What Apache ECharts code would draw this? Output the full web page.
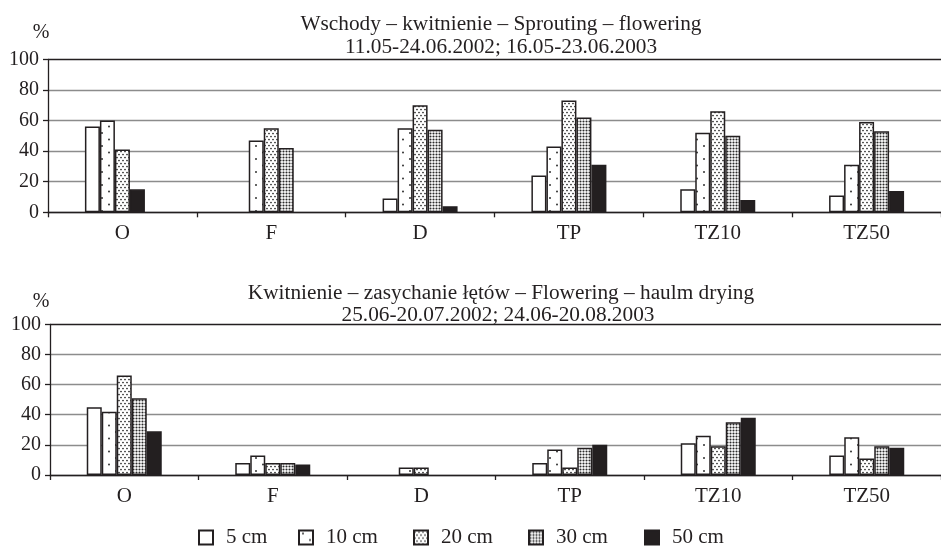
<!DOCTYPE html>
<html>
<head>
<meta charset="utf-8">
<script src="https://cdn.jsdelivr.net/npm/echarts@6/dist/echarts.min.js"></script>
<style>
html,body{margin:0;padding:0;background:#fff;}
#chart{width:941px;height:549px;}
</style>
</head>
<body>
<div id="chart"></div>
<script>
// ---- data ----
const categories = ['O', 'F', 'D', 'TP', 'TZ10', 'TZ50'];
const seriesNames = ['5 cm', '10 cm', '20 cm', '30 cm', '50 cm'];
const yTicks = [0, 20, 40, 60, 80, 100];

const titleTop1 = 'Wschody – kwitnienie – Sprouting – flowering';
const titleTop2 = '11.05-24.06.2002; 16.05-23.06.2003';
const titleBot1 = 'Kwitnienie – zasychanie łętów – Flowering – haulm drying';
const titleBot2 = '25.06-20.07.2002; 24.06-20.08.2003';

// Sprouting – flowering (top panel)
const top5  = [56, 0, 9, 24, 15, 11];
const top10 = [60, 47, 55, 43, 52, 31];
const top20 = [41, 55, 70, 73, 66, 59];
const top30 = [15, 42, 54, 62, 50, 53];   // in the figure, O's 4th bar is drawn black
const top50 = [0, 0, 4, 31, 8, 14];

// Flowering – haulm drying (bottom panel)
const bot5  = [45, 8, 0, 8, 21, 13];
const bot10 = [42, 13, 5, 17, 26, 25];
const bot20 = [66, 8, 5, 5, 19, 11];
const bot30 = [51, 8, 0, 18, 35, 19];
const bot50 = [29, 7, 0, 20, 38, 18];

// ---- patterns ----
function pattern(w, h, bg, fg, dots, r) {
  const c = document.createElement('canvas');
  c.width = w; c.height = h;
  const g = c.getContext('2d');
  g.fillStyle = bg; g.fillRect(0, 0, w, h);
  g.fillStyle = fg;
  dots.forEach(d => { g.beginPath(); g.arc(d[0], d[1], r, 0, Math.PI * 2); g.fill(); });
  return { image: c, repeat: 'repeat' };
}
const INK = '#231f20';
const fills = [
  '#ffffff',
  pattern(14, 13, '#ffffff', '#333', [[4, 3], [11, 9.5]], 1.0),
  pattern(4, 6, '#ffffff', '#222', [[1, 1.5], [3, 4.5]], 0.85),
  pattern(3, 3, '#ffffff', '#2a2a2a', [[1.5, 1.5]], 1.05),
  INK
];

const font = "'Liberation Serif','Times New Roman',serif";
const FS = 20;
const FT = 21.3;

const grids = [
  { left: 48, top: 59.3, width: 900, height: 153 },
  { left: 50, top: 324.3, width: 896, height: 150.7 }
];

function xAxis(i) {
  return {
    type: 'category', gridIndex: i, data: categories,
    axisLine: { lineStyle: { color: INK, width: 1.3 } },
    axisTick: { show: true, length: 5, lineStyle: { color: INK, width: 1.3 } },
    axisLabel: { fontFamily: font, fontSize: 21, color: INK, margin: 11 },
    splitLine: { show: false }
  };
}
function yAxis(i) {
  return {
    type: 'value', gridIndex: i, min: yTicks[0], max: yTicks[yTicks.length - 1], interval: 20,
    axisLine: { show: true, lineStyle: { color: INK, width: 1.3 } },
    axisTick: { show: true, length: 5, lineStyle: { color: INK, width: 1.3 } },
    axisLabel: { fontFamily: font, fontSize: FS, color: INK, margin: 9 },
    splitLine: { show: true, lineStyle: { color: ['#8c8c8c', '#8c8c8c', '#8c8c8c', '#8c8c8c', '#8c8c8c', INK], width: 1.4 } }
  };
}

function makeSeries(gridIdx, arrays) {
  return arrays.map((arr, k) => ({
    type: 'bar', name: seriesNames[k],
    xAxisIndex: gridIdx, yAxisIndex: gridIdx,
    barWidth: 15, barGap: '0%',
    itemStyle: { color: fills[k], borderColor: INK, borderWidth: 1.5 },
    data: arr.map((v, j) => {
      if (v === 0) return null;
      if (gridIdx === 0 && k === 3 && j === 0) {
        return { value: v, itemStyle: { color: INK } };
      }
      return v;
    }),
    animation: false
  }));
}

const legendLefts = [198, 298, 413, 528, 644];
const legends = seriesNames.map((n, k) => ({
  data: [n], left: legendLefts[k], top: 527, padding: 0,
  itemWidth: 14, itemHeight: 14, icon: 'rect', selectedMode: false,
  textStyle: { fontFamily: font, fontSize: 21, color: INK, padding: [0, 0, 0, 8] }
}));

function txt(x, y, s, fs) {
  return { type: 'text', x: x, y: y, style: { text: s, fontFamily: font, fontSize: fs, fill: INK, textAlign: 'center', textVerticalAlign: 'middle' } };
}

const chart = echarts.init(document.getElementById('chart'));
chart.setOption({
  animation: false,
  backgroundColor: '#fff',
  grid: grids,
  xAxis: [xAxis(0), xAxis(1)],
  yAxis: [yAxis(0), yAxis(1)],
  legend: legends,
  series: makeSeries(0, [top5, top10, top20, top30, top50]).concat(makeSeries(1, [bot5, bot10, bot20, bot30, bot50])),
  graphic: [
    txt(501, 24, titleTop1, FT), txt(501, 47, titleTop2, FT),
    txt(501, 293, titleBot1, FT), txt(498, 315, titleBot2, FT),
    txt(41, 33, '%', FS), txt(41, 302, '%', FS)
  ]
});
</script>
</body>
</html>
